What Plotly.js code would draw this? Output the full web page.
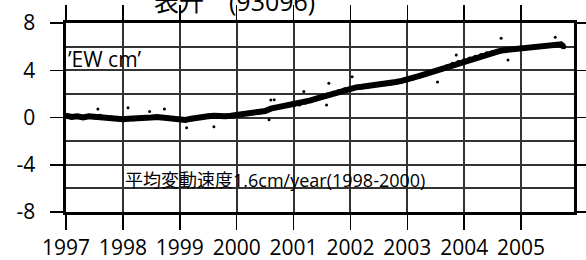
<!DOCTYPE html>
<html>
<head>
<meta charset="utf-8">
<script src="https://cdn.plot.ly/plotly-3.0.1.min.js"></script>
<style>html,body{margin:0;padding:0;background:#fff;}#chart{width:586px;height:260px;}</style>
</head>
<body>
<div id="chart"></div>
<script>
// Band centre (EW displacement, cm)
var years = [1997.0,1997.1,1997.2,1997.3,1997.4,1997.5,1997.6,1997.7,1997.8,1997.9,
  1998.0,1998.1,1998.2,1998.3,1998.4,1998.5,1998.6,1998.7,1998.8,1998.9,
  1999.0,1999.1,1999.2,1999.3,1999.4,1999.5,1999.6,1999.7,1999.8,1999.9,
  2000.0,2000.1,2000.2,2000.3,2000.4,2000.5,2000.6,2000.7,2000.8,2000.9,
  2001.0,2001.1,2001.2,2001.3,2001.4,2001.5,2001.6,2001.7,2001.8,2001.9,
  2002.0,2002.1,2002.2,2002.3,2002.4,2002.5,2002.6,2002.7,2002.8,2002.9,
  2003.0,2003.1,2003.2,2003.3,2003.4,2003.5,2003.6,2003.7,2003.8,2003.9,
  2004.0,2004.1,2004.2,2004.3,2004.4,2004.5,2004.6,2004.7,2004.8,2004.9,
  2005.0,2005.1,2005.2,2005.3,2005.4,2005.5,2005.6,2005.7,2005.75];
var ew = [0.15,0.05,0.1,0.0,0.1,0.05,0.1,0.0,-0.05,-0.1,
  -0.15,-0.1,-0.1,-0.05,0.0,0.0,0.05,0.0,-0.05,-0.1,
  -0.15,-0.2,-0.1,0.0,0.05,0.1,0.15,0.1,0.1,0.15,
  0.2,0.3,0.35,0.4,0.45,0.55,0.75,0.85,0.9,1.0,
  1.05,1.15,1.3,1.45,1.6,1.75,1.9,2.05,2.2,2.35,
  2.45,2.55,2.6,2.65,2.7,2.8,2.85,2.9,3.0,3.1,
  3.2,3.35,3.5,3.65,3.8,3.95,4.1,4.3,4.5,4.65,
  4.8,4.95,5.1,5.25,5.4,5.5,5.6,5.7,5.75,5.8,
  5.85,5.9,5.95,6.0,6.05,6.1,6.15,6.2,6.0];
// Scattered outlying daily points
var outYears = [1997.56,1998.09,1998.47,1998.73,1999.12,1999.6,2000.57,2000.6,2000.66,
  2001.18,2001.58,2001.62,2002.03,2003.53,2003.86,2004.65,2004.77,2005.6];
var outEw = [0.72,0.83,0.5,0.72,-0.86,-0.78,-0.2,1.48,1.5,
  2.2,1.06,2.9,3.45,3.0,5.3,6.7,4.87,6.8];
var yearTicks = [1997, 1998, 1999, 2000, 2001, 2002, 2003, 2004, 2005];
var yTickVals = [-8, -4, 0, 4, 8];
var yTickText = ['-8', '-4', '0', '4', '8'];

var traces = [
  {x: years, y: ew, type: 'scatter', mode: 'lines',
   line: {color: '#000', width: 6}},
  {x: years, y: ew, type: 'scatter', mode: 'markers',
   marker: {color: '#000', size: 5}},
  {x: outYears, y: outEw, type: 'scatter', mode: 'markers',
   marker: {color: '#000', size: 3}}
];

var fontFam = 'Open Sans, Noto Sans CJK JP, sans-serif';
var layout = {
  width: 586, height: 260,
  margin: {l: 66, r: 12, t: 23, b: 48, pad: 0},
  paper_bgcolor: '#fff', plot_bgcolor: '#fff',
  showlegend: false,
  font: {family: fontFam, color: '#000', size: 21},
  xaxis: {
    range: [1997, 2005.93],
    tickvals: yearTicks, ticktext: yearTicks.map(String),
    ticks: 'outside', ticklen: 15, tickwidth: 1.5, tickcolor: '#000',
    showgrid: true, gridcolor: '#333', gridwidth: 2,
    showline: true, linecolor: '#000', linewidth: 3, mirror: 'ticks',
    zeroline: false,
    tickfont: {family: fontFam, size: 21, color: '#000'}
  },
  yaxis: {
    range: [-8, 8],
    tickvals: yTickVals, ticktext: yTickText.map(function(t){ return t + '\u2002'; }),
    ticks: 'outside', ticklen: 13, tickwidth: 1.5, tickcolor: '#000',
    showgrid: true, gridcolor: '#333', gridwidth: 2,
    minor: {dtick: 2, showgrid: true, gridcolor: '#333', gridwidth: 2},
    showline: true, linecolor: '#000', linewidth: 3, mirror: 'ticks',
    zeroline: false,
    tickfont: {family: fontFam, size: 21, color: '#000'}
  },
  annotations: [
    {text: '表升　(93096)', xref: 'paper', yref: 'paper', x: 0.332, y: 1.115,
     xanchor: 'center', yanchor: 'middle', showarrow: false,
     font: {family: fontFam, size: 25, color: '#000'}},
    {text: '’EW cm’', xref: 'x', yref: 'y', x: 1997.0, y: 4.95,
     xanchor: 'left', yanchor: 'middle', showarrow: false,
     font: {family: fontFam, size: 21, color: '#000'}},
    {text: '平均変動速度1.6cm/year(1998-2000)', xref: 'x', yref: 'y', x: 1998.0, y: -5.3,
     xanchor: 'left', yanchor: 'middle', showarrow: false,
     font: {family: fontFam, size: 18, color: '#000'}}
  ]
};
Plotly.newPlot('chart', traces, layout, {displayModeBar: false, staticPlot: true});
</script>
</body>
</html>
